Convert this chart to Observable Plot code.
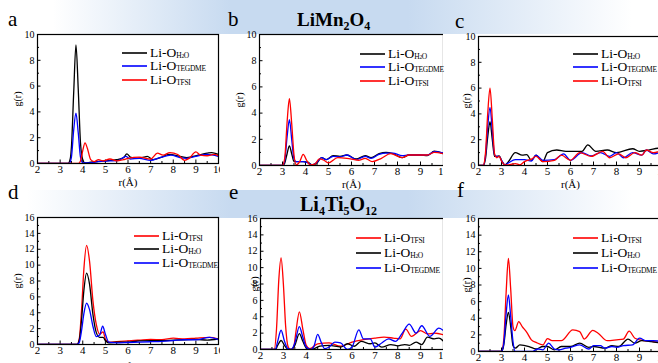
<!DOCTYPE html>
<html><head><meta charset="utf-8">
<script src="https://cdn.jsdelivr.net/npm/d3@7"></script>
<script src="https://cdn.jsdelivr.net/npm/@observablehq/plot@0.6"></script>
<style>
body{margin:0;width:658px;height:363px;position:relative;overflow:hidden;background:#fff;font-family:"Liberation Serif",serif;}
.band{position:absolute;left:0;width:658px;}
.cell{position:absolute;overflow:hidden;}
.cell svg{max-width:none !important;}
.cell svg, .cell svg text{font-family:"Liberation Serif",serif !important;}
.letter{position:absolute;font-size:21px;line-height:1;font-family:"Liberation Serif",serif;}
.title{position:absolute;font-weight:bold;font-size:19px;line-height:1;white-space:nowrap;font-family:"Liberation Serif",serif;}
.title sub{font-size:12px;vertical-align:-4px;line-height:0}
.leg{position:absolute;display:flex;align-items:center;font-size:13.5px;white-space:nowrap;height:13px;line-height:13px;font-family:"Liberation Serif",serif;}
.leg svg{margin-right:3px;display:block}
.leg .sb{font-size:7.5px;position:relative;top:3px;letter-spacing:-0.3px;line-height:8px}
.leg .sb2{font-size:5.5px}
</style></head>
<body>
<div class="band" style="top:0;height:34px;background:linear-gradient(to right,#fff 8%,#c7daf0 35%,#c7daf0 62%,#fff 96%)"></div>
<div class="band" style="top:190px;height:28px;background:linear-gradient(to right,#fff 4%,#c7daf0 35%,#c7daf0 62%,#fff 96%)"></div>
<div id="root"></div>
<script>
// ---------- data (r in Å, g(r)) ----------
const seriesNames = ["H2O", "TEGDME", "TFSI"];
const panelLetters = ["a", "b", "c", "d", "e", "f"];
const titleTop = "LiMn<sub>2</sub>O<sub>4</sub>";
const titleBottom = "Li<sub>4</sub>Ti<sub>5</sub>O<sub>12</sub>";
const xTicks = [2, 3, 4, 5, 6, 7, 8, 9, 10];

const aH2O = [[2,0],[3.35,0],[3.45,0.4],[3.5,1.3],[3.6,5.5],[3.7,9.2],[3.8,5.8],[3.9,1.6],[4.0,0.3],[4.1,0.05],[4.3,0.08],[4.6,0.15],[5.0,0.2],[5.5,0.3],[5.8,0.45],[5.95,0.75],[6.1,0.5],[6.4,0.4],[6.7,0.5],[6.85,0.55],[7.1,0.3],[7.5,0.5],[7.8,0.7],[8.3,0.55],[8.6,0.45],[9.1,0.65],[9.5,0.8],[9.7,0.85],[10,0.7]];
const aTEGDME = [[2,0],[3.4,0],[3.5,0.5],[3.6,2.6],[3.7,3.9],[3.8,2.4],[3.9,0.5],[4.0,0.05],[4.3,0.05],[4.7,0.15],[5.2,0.2],[5.6,0.25],[5.9,0.55],[6.1,0.35],[6.5,0.4],[7.0,0.25],[7.4,0.45],[7.9,0.65],[8.3,0.45],[8.6,0.4],[9.0,0.55],[9.5,0.7],[10,0.55]];
const aTFSI = [[2,0],[3.8,0],[3.9,0.2],[4.0,1.0],[4.1,1.6],[4.2,1.2],[4.35,0.3],[4.5,0.15],[4.7,0.3],[4.9,0.2],[5.2,0.35],[5.5,0.2],[5.8,0.3],[6.0,0.4],[6.5,0.5],[7.0,0.35],[7.3,0.8],[7.55,0.65],[7.85,0.85],[8.2,0.7],[8.5,0.25],[8.7,0.4],[9.0,0.9],[9.2,0.65],[9.5,0.6],[9.8,0.7],[10,0.6]];

const bH2O = [[2,0],[3.0,0],[3.1,0.2],[3.2,0.9],[3.3,1.5],[3.4,0.9],[3.5,0.3],[3.6,0.3],[3.9,0.3],[4.1,0.25],[4.3,0.05],[4.5,0.2],[4.7,0.6],[4.9,0.45],[5.2,0.75],[5.5,0.7],[5.8,0.8],[6.2,0.5],[6.6,0.75],[6.85,0.6],[7.2,0.9],[7.5,1.0],[7.8,0.9],[8.2,0.6],[8.5,0.8],[9.0,0.8],[9.3,0.75],[9.6,1.1],[10,0.9]];
const bTEGDME = [[2,0],[3.0,0],[3.1,0.4],[3.2,2.2],[3.3,3.5],[3.4,2.0],[3.5,0.5],[3.6,0.3],[3.9,0.3],[4.1,0.2],[4.3,0.05],[4.5,0.25],[4.7,0.6],[4.9,0.45],[5.2,0.7],[5.5,0.65],[5.8,0.8],[6.2,0.45],[6.6,0.7],[6.85,0.55],[7.2,0.85],[7.5,0.95],[7.8,0.95],[8.2,0.75],[8.5,0.8],[9.0,0.8],[9.3,0.8],[9.6,1.05],[10,0.95]];
const bTFSI = [[2,0],[3.0,0],[3.1,0.6],[3.2,3.3],[3.3,5.1],[3.4,3.2],[3.5,0.8],[3.6,0.05],[3.75,0.3],[3.9,0.85],[4.05,0.4],[4.2,0.05],[4.4,0.1],[4.6,0.5],[4.8,0.4],[5.0,0.2],[5.4,0.6],[5.8,0.55],[6.3,0.4],[6.6,0.55],[6.9,0.3],[7.3,0.55],[7.7,0.9],[8.2,0.6],[8.5,0.8],[9.0,0.8],[9.3,0.8],[9.6,1.0],[10,0.9]];

const cH2O = [[2,0],[2.2,0],[2.3,0.5],[2.4,2.2],[2.5,3.4],[2.6,2.0],[2.7,0.7],[2.8,0.7],[2.9,0.75],[3.0,0.4],[3.15,0.05],[3.3,0.3],[3.6,1.0],[3.9,0.8],[4.1,0.85],[4.3,0.4],[4.5,0.8],[4.8,0.3],[5.0,1.0],[5.4,1.2],[5.8,1.1],[6.5,1.1],[6.75,1.6],[7.1,1.1],[7.6,1.2],[8.0,1.0],[8.7,1.3],[9.0,1.1],[9.4,1.2],[9.9,1.35],[10,1.3]];
const cTEGDME = [[2,0],[2.2,0],[2.3,0.7],[2.4,3.0],[2.5,4.5],[2.6,2.7],[2.7,0.8],[2.8,0.7],[2.9,0.7],[3.0,0.4],[3.15,0.05],[3.3,0.2],[3.6,0.45],[4.0,0.45],[4.3,0.35],[4.5,0.8],[4.8,0.4],[5.3,0.45],[5.7,0.9],[6.0,0.4],[6.5,1.0],[6.9,0.75],[7.3,1.0],[7.7,0.7],[8.0,1.0],[8.3,0.6],[8.7,1.0],[9.1,0.8],[9.3,1.2],[9.6,0.9],[10,1.1]];
const cTFSI = [[2,0],[2.2,0],[2.3,0.9],[2.4,4.0],[2.5,6.0],[2.6,3.6],[2.7,0.9],[2.8,0.6],[2.9,0.7],[3.0,0.35],[3.15,0.05],[3.3,0.05],[3.6,0.15],[3.8,0.05],[4.0,0.3],[4.3,0.5],[4.5,0.7],[4.8,0.3],[5.3,0.4],[5.6,0.8],[6.0,0.4],[6.4,1.0],[6.9,0.7],[7.4,1.1],[7.7,0.6],[8.1,0.9],[8.4,0.6],[8.8,1.0],[9.1,0.8],[9.3,1.2],[9.6,1.0],[10,1.2]];

const dTFSI = [[2,0],[3.75,0],[3.85,0.8],[3.95,4.5],[4.05,9.5],[4.17,12.5],[4.3,10.5],[4.45,5.5],[4.6,2.5],[4.75,1.3],[4.9,1.6],[5.0,0.7],[5.15,0.3],[5.5,0.35],[6.0,0.45],[6.5,0.55],[7.0,0.65],[7.5,0.6],[8.0,0.8],[8.5,0.7],[9.0,0.8],[9.6,0.9],[10,0.7]];
const dH2O = [[2,0],[3.75,0],[3.85,0.6],[3.95,3.2],[4.05,6.8],[4.17,9.0],[4.3,7.6],[4.45,3.8],[4.6,1.5],[4.75,0.9],[4.9,0.9],[5.0,0.5],[5.15,0.2],[5.5,0.3],[6.0,0.3],[6.5,0.45],[7.0,0.5],[7.5,0.5],[8.0,0.55],[8.5,0.6],[9.0,0.65],[9.5,0.55],[10,0.7]];
const dTEGDME = [[2,0],[3.75,0],[3.85,0.3],[3.95,1.8],[4.05,3.9],[4.17,5.2],[4.3,4.4],[4.45,2.3],[4.6,1.0],[4.75,1.2],[4.88,2.3],[5.0,1.3],[5.15,0.3],[5.5,0.2],[6.0,0.25],[6.5,0.3],[7.0,0.35],[7.5,0.4],[8.0,0.5],[8.5,0.6],[9.0,0.6],[9.6,0.9],[10,0.6]];

const eTFSI = [[2,0],[2.6,0],[2.7,2.5],[2.8,8.5],[2.9,11.2],[3.0,8.0],[3.1,2.8],[3.2,0.4],[3.3,0],[3.45,0.3],[3.55,2.2],[3.7,4.6],[3.85,2.5],[4.0,0.5],[4.15,0.1],[4.5,0.7],[5.0,0.8],[5.5,0.4],[6.0,0.9],[6.5,1.2],[7.0,1.4],[7.4,1.5],[7.8,1.4],[8.1,1.3],[8.35,2.5],[8.6,1.6],[9.0,2.3],[9.3,1.9],[9.6,2.0],[10,1.8]];
const eH2O = [[2,0],[2.65,0],[2.75,0.5],[2.9,1.1],[3.05,0.5],[3.2,0.05],[3.35,0],[3.5,0.5],[3.7,1.95],[3.85,1.0],[4.0,0.2],[4.2,0],[4.6,0.4],[5.0,0.5],[5.5,0.3],[5.8,0.7],[6.1,0.4],[6.4,1.0],[6.8,0.7],[7.0,0.8],[7.3,0.3],[7.7,0.6],[8.0,0.45],[8.3,0.6],[8.5,0.5],[8.8,0.9],[9.05,0.6],[9.3,1.5],[9.6,1.3],[9.8,1.4],[10,1.0]];
const eTEGDME = [[2,0],[2.65,0],[2.75,1.0],[2.9,2.35],[3.05,1.0],[3.2,0.1],[3.35,0],[3.5,0.8],[3.7,2.8],[3.85,1.5],[4.0,0.3],[4.2,0],[4.35,0.5],[4.5,1.85],[4.65,0.9],[4.8,0.1],[5.0,0.3],[5.25,0.9],[5.5,0.8],[5.8,0],[6.0,0.3],[6.3,2.4],[6.5,1.3],[6.8,1.3],[7.0,0.3],[7.3,0.8],[7.6,1.3],[7.9,1.0],[8.2,2.0],[8.5,3.1],[8.8,2.0],[9.05,2.9],[9.4,1.6],[9.8,2.6],[10,2.3]];

const fTFSI = [[2,0],[3.0,0],[3.1,1.5],[3.2,7.0],[3.3,11.2],[3.4,7.5],[3.5,3.0],[3.58,2.5],[3.75,3.6],[3.9,3.0],[4.1,2.3],[4.3,1.4],[4.5,1.1],[4.8,0.8],[5.0,1.55],[5.2,1.3],[5.6,1.3],[6.1,2.6],[6.4,2.4],[6.6,1.5],[6.97,2.55],[7.2,2.2],[7.6,1.3],[8.0,1.4],[8.3,1.5],[8.55,2.45],[8.8,1.6],[9.2,1.3],[9.6,1.2],[10,1.0]];
const fH2O = [[2,0],[3.0,0],[3.1,0.8],[3.2,3.2],[3.3,4.7],[3.4,3.0],[3.5,0.7],[3.6,0.4],[3.8,0.8],[4.2,0.6],[4.5,0.3],[4.8,0.6],[5.0,0.6],[5.3,0.2],[5.6,0.6],[6.0,0.6],[6.4,1.0],[6.8,0.5],[7.0,0.6],[7.5,0.4],[7.8,0.7],[8.1,0.6],[8.5,1.5],[8.8,1.0],[9.1,1.3],[9.5,1.2],[10,1.0]];
const fTEGDME = [[2,0],[3.0,0],[3.1,1.0],[3.2,4.5],[3.3,6.8],[3.4,4.2],[3.5,1.2],[3.6,0],[4.3,0],[4.6,0.3],[4.8,0.2],[5.05,1.0],[5.3,0.3],[5.5,0.2],[5.8,0.4],[6.0,0.5],[6.4,0.8],[6.8,0.3],[7.0,0.7],[7.3,0.7],[7.5,0.4],[7.8,0.6],[8.0,0.5],[8.3,0.7],[8.7,0.8],[9.0,1.6],[9.3,1.3],[9.6,1.3],[10,1.2]];

// ---------- styling / layout ----------
const colors = {H2O: "#000000", TEGDME: "#0000ff", TFSI: "#ff0000"};
const subHTML = {H2O: 'H<span class="sb2">2</span>O', TEGDME: "TEGDME", TFSI: "TFSI"};
const topOrder = ["H2O", "TEGDME", "TFSI"];
const botOrder = ["TFSI", "H2O", "TEGDME"];

const panels = [
  {L:"a", left:0,   top:0,   w:220, h:190, sw:240, ml:37, mr:22, mt:34, mb:27, ymax:10, data:{H2O:aH2O,TEGDME:aTEGDME,TFSI:aTFSI}, order:topOrder, leg:[122,52], ls:13.5, lx:8,  ly:9,  gy:24, xl:22},
  {L:"b", left:220, top:0,   w:223, h:190, sw:245, ml:39, mr:22, mt:34, mb:25, ymax:10, data:{H2O:bH2O,TEGDME:bTEGDME,TFSI:bTFSI}, order:topOrder, leg:[360,53], ls:13.5, lx:228,ly:9,  gy:24, xl:22},
  {L:"c", left:443, top:0,   w:215, h:190, sw:240, ml:35, mr:21, mt:36, mb:25, ymax:10, data:{H2O:cH2O,TEGDME:cTEGDME,TFSI:cTFSI}, order:topOrder, leg:[573,53], ls:13.5, lx:455,ly:11, gy:16, xl:22},
  {L:"d", left:0,   top:190, w:220, h:173, sw:240, ml:37, mr:22, mt:27, mb:19, ymax:16, data:{H2O:dH2O,TEGDME:dTEGDME,TFSI:dTFSI}, order:botOrder, leg:[134,235], ls:13.5, lx:8, ly:182,gy:24, xl:26},
  {L:"e", left:220, top:190, w:223, h:173, sw:245, ml:40, mr:22, mt:28, mb:14, ymax:16, data:{H2O:eH2O,TEGDME:eTEGDME,TFSI:eTFSI}, order:botOrder, leg:[356,237], ls:15, lx:229,ly:182,gy:10, xl:30},
  {L:"f", left:443, top:190, w:215, h:173, sw:240, ml:35, mr:21, mt:28, mb:12, ymax:16, data:{H2O:fH2O,TEGDME:fTEGDME,TFSI:fTFSI}, order:botOrder, leg:[573,237], ls:15, lx:457,ly:180,gy:16, xl:30}
];

const root = document.getElementById("root");
for (const p of panels) {
  const yMajor = d3.range(0, p.ymax + 1, 2);
  const yMinor = d3.range(1, p.ymax, 2);
  const xMinor = d3.range(2.5, 10, 1);
  const marks = [
    Plot.axisX({ticks: xMinor, tickSize: -2, text: null, label: null}),
    Plot.axisY({ticks: yMinor, tickSize: -2, text: null, label: null}),
    Plot.axisX({ticks: xTicks, tickSize: -3.5, tickPadding: 5.5, tickFormat: d3.format("d"), label: "r(Å)", labelArrow: "none", labelAnchor: "center", labelOffset: p.xl, fontSize: 11}),
    Plot.axisY({ticks: yMajor, tickSize: -3.5, tickPadding: 6.5, tickFormat: d3.format("d"), label: "g(r)", labelArrow: "none", labelAnchor: "center", labelOffset: p.gy, fontSize: 10}),
  ];
  for (const s of p.order) {
    marks.push(Plot.line(p.data[s], {x: d => d[0], y: d => d[1], stroke: colors[s], strokeWidth: 1.3, curve: "monotone-x", clip: true}));
  }
  marks.push(Plot.frame({stroke: "#000", strokeWidth: 1.2}));
  const chart = Plot.plot({
    width: p.sw, height: p.h,
    marginLeft: p.ml, marginRight: p.mr, marginTop: p.mt, marginBottom: p.mb,
    x: {domain: [2, 10]},
    y: {domain: [0, p.ymax]},
    style: {fontFamily: "Liberation Serif", fontSize: "10.5px", background: "transparent", color: "#000", overflow: "visible", maxWidth: "none"},
    marks
  });
  chart.style.width = p.sw + "px";
  chart.style.height = p.h + "px";
  const cell = document.createElement("div");
  cell.className = "cell";
  Object.assign(cell.style, {left: p.left + "px", top: p.top + "px", width: p.w + "px", height: p.h + "px"});
  cell.appendChild(chart);
  root.appendChild(cell);

  // legend
  p.order.forEach((s, i) => {
    const row = document.createElement("div");
    row.className = "leg";
    row.style.left = p.leg[0] + "px";
    row.style.top = Math.round(p.leg[1] - 6.5 + i * p.ls) + "px";
    row.innerHTML = `<svg width="25" height="4"><line x1="0" x2="25" y1="2" y2="2" stroke="${colors[s]}" stroke-width="1.6"/></svg>Li-O<span class="sb">${subHTML[s]}</span>`;
    document.body.appendChild(row);
  });
  // panel letter
  const lt = document.createElement("div");
  lt.className = "letter";
  lt.style.left = p.lx + "px"; lt.style.top = p.ly + "px";
  lt.textContent = p.L;
  document.body.appendChild(lt);
}
const t1 = document.createElement("div");
t1.className = "title"; t1.style.left = "297px"; t1.style.top = "10px"; t1.innerHTML = titleTop;
document.body.appendChild(t1);
const t2 = document.createElement("div");
t2.className = "title"; t2.style.left = "300px"; t2.style.top = "194px"; t2.style.fontSize = "20px"; t2.innerHTML = titleBottom;
document.body.appendChild(t2);
</script>
</body></html>
